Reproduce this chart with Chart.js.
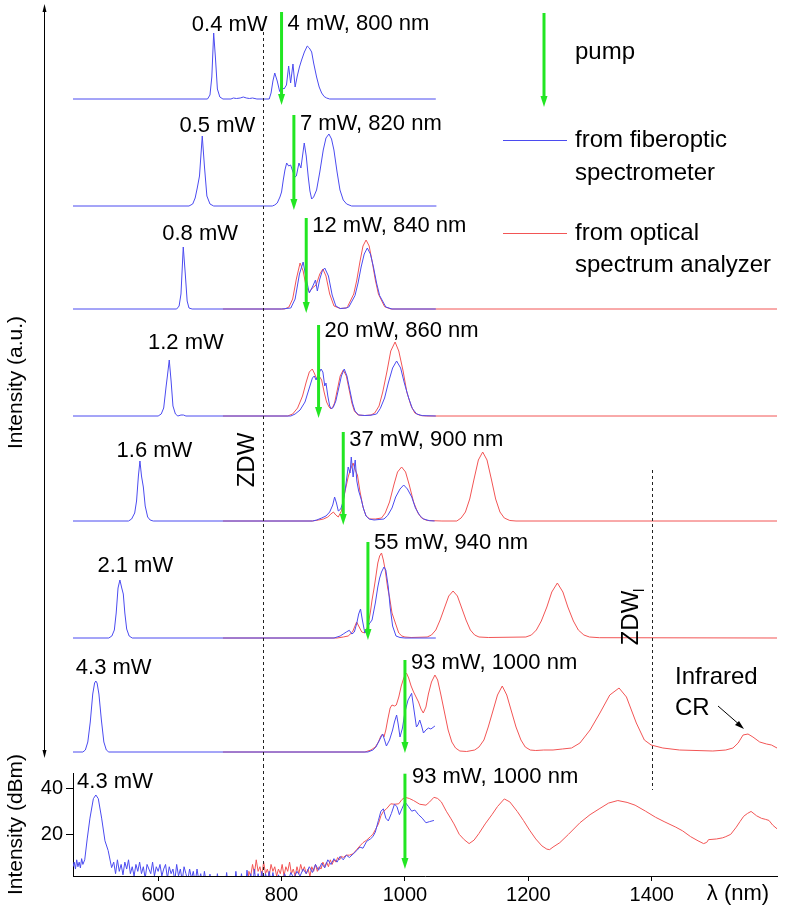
<!DOCTYPE html>
<html><head><meta charset="utf-8">
<script src="https://cdn.jsdelivr.net/npm/chart.js@4.4.0/dist/chart.umd.min.js"></script>
<style>
html,body{margin:0;padding:0;background:#fff;}
#wrap{position:relative;width:789px;height:917px;overflow:hidden;background:#fff;}
#top{position:absolute;left:0;top:0;}
#bot{position:absolute;left:0;top:690px;}
</style></head><body>
<div id="wrap"><canvas id="top" width="789" height="765"></canvas><canvas id="bot" width="789" height="227"></canvas></div>
<script>
// ---------------- DATA ----------------
const xTicks = [600, 800, 1000, 1200, 1400];
const dbmTicks = [20, 40];
const zdw = 770;
const zdwL = 1400;
const pumpPowers = ['4 mW', '7 mW', '12 mW', '20 mW', '37 mW', '55 mW', '93 mW'];
const pumpWavelengths = [800, 820, 840, 860, 900, 940, 1000];
const outputPowers = ['0.4 mW', '0.5 mW', '0.8 mW', '1.2 mW', '1.6 mW', '2.1 mW', '4.3 mW'];
const traceOffsets = [666, 559, 456, 349, 244, 127, 13];

// [wavelength nm, intensity a.u. above trace baseline]
const blue1 = [[462,0],[680,0],[684,4],[687,22],[690,66],[693,40],[696,10],[700,2],[705,0],[718,0],[722,1],[727,0.5],[733,1],[738,2],[743,1],[748,0.5],[753,1],[760,0],[780,0],[783,6],[786,18],[789,26],[793,18],[797,7.5],[800,12],[804,10],[808,14],[811.5,33],[814.7,16],[818.5,35],[822,12],[825.5,23],[829,32],[832.5,39],[837,47],[841.7,53],[845,51],[848.8,47],[852,36],[856.8,22],[861,12],[865,6],[869,2.5],[873,1],[878,0],[1050,0]];
const blue2 = [[462,0],[650,0],[656,2],[660,8],[663.4,18],[667,30],[671.5,70],[675,40],[679,10],[684,2],[690,0],[785,0],[789,1],[793,3],[797.4,9],[800,14],[802.8,26],[805.5,36],[808.3,43],[811.5,40],[814.7,41],[818,35],[821.7,29],[824,30],[828.2,43],[831.4,38],[836.8,63],[840,50],[843.3,29],[846,15],[848.8,7],[852,9],[856.8,16],[862,34],[867.6,56],[872,68],[876.8,72],[881,67],[884.9,56],[890,34],[894.7,16],[900,6],[905.5,2],[913.6,0],[1051,0]];
const blue3 = [[462,0],[630,0],[634,3],[637,15],[640.7,62],[644,35],[647,8],[650,1],[655,0],[800,0],[815,1],[822,10],[829,35],[835,47],[840,30],[845,16],[850,22],[855,29],[858,18],[862,30],[866,38],[870,41],[876,33],[882,14],[888,3],[895,0.5],[905,1],[909,2],[919,13.4],[924,26],[929,42],[934,55],[939,61],[944,55],[949,42],[954,26],[959,13.4],[969,2],[979,0],[1050,0]];
const red3 = [[705,0],[805,0],[812,2],[818,10],[824,30],[830,46],[835,38],[840,22],[845,17],[850,21],[856,24],[862,35],[867,40],[872,33],[878,15],[885,3],[895,0.5],[905,1],[907,2.3],[917,15],[922,29],[927,47],[932,63],[937,69],[942,63],[947,47],[952,29],[957,15],[967,2.3],[977,0],[1603,0]];
const blue4 = [[462,0],[600,0],[605,2],[609,8],[613,30],[615,40],[618,56],[621,35],[624,10],[628,2],[632,0],[637,1],[641,1],[645,0],[815,0],[822,2],[830,6],[838,14],[845,28],[850,38],[853,40],[856,36],[860,42],[864,47],[867,44],[870,30],[872,33],[875,20],[878,10],[881,7],[884,9],[888,15],[892,26],[897,40],[901.6,47],[906,40],[911,25],[915,13],[919,5],[925,1],[935,0.5],[945,0.8],[954,2],[960,7.5],[967,18],[973,33],[980,48],[986.5,55],[993,48],[999,33],[1006,18],[1012,7.5],[1019,2],[1028,0.4],[1050,0]];
const red4 = [[705,0],[810,0],[818,2],[826,8],[834,20],[840,34],[845,44],[849.8,47],[853,43],[857,37],[861,40],[865,36],[869,24],[873,14],[877,9],[880,7],[883,9],[886,13],[890,25],[895,40],[900,46],[905,40],[910,25],[914,13],[918,5],[924,1],[935,0.5],[945,1],[951,3],[958,10],[964,24],[971,45],[977,65],[984,74],[990,65],[997,45],[1003,24],[1010,10],[1016,3],[1025,0.5],[1035,0],[1603,0]];
const blue5 = [[462,0],[552,0],[557,2],[562,8],[565,20],[568,45],[570.5,60],[573,45],[576,34],[579,15],[583,4],[587,1],[592,0],[850,0],[857,1],[865,3],[872,5],[878,9],[883,16],[886,24],[889,18],[892,10],[896,12],[900,20],[904,35],[908,54],[911,48],[913,64],[916,44],[919.4,61],[922,40],[925,30],[929,22],[933,12],[937,5],[942,2],[950,1],[958,1.5],[966,2],[972,5.5],[979,13],[985,24],[992,32],[998,36],[1004,32],[1011,24],[1017,13],[1024,5.5],[1030,2],[1040,0.3],[1048,0]];
const red5 = [[705,0],[850,0],[860,1],[868,2],[875,4],[880,7],[884,9],[888,6],[892,4],[897,10],[903,30],[908,44],[912,52],[916,58],[920,50],[923,46],[927,30],[932,14],[937,5],[943,2],[952,2],[962,3],[968,8],[975,19],[982,36],[988,49],[994.6,54],[1001,49],[1007,36],[1014,19],[1021,8],[1027,3],[1036,0.5],[1060,0],[1084,0],[1091,3],[1098,9],[1105,22],[1112,42],[1119,61],[1126,69],[1133,61],[1140,42],[1147,22],[1154,9],[1161,3],[1170,0.5],[1180,0],[1603,0]];
const blue6 = [[462,0],[520,0],[525,2],[529,8],[532,25],[535,50],[538,58],[541,50],[543.5,44],[546,25],[549,9],[553,2],[558,0],[885,0],[890,1],[895,2],[900,4],[905,6],[909.8,7.7],[914,4],[918,6],[922,15],[925,24],[928,29],[931,18],[935,5],[938,8],[942,14],[946.7,18],[952,35],[956,51],[959,60],[962,66],[966,71],[969,68],[973,51],[976,31],[980,12],[985.5,2],[992,0.5],[1000,0],[1050,0]];
const red6 = [[705,0],[890,0],[900,1],[908,2],[915,6],[919,12],[921.7,16],[925,12],[930,6],[935,5],[940,12],[944,26],[946.7,38],[950,50],[952,58],[956,75],[959,82],[962,85],[965,78],[968,68],[972,50],[975,41],[979,25],[985,14],[990,5],[995,2],[1000,1],[1010,0.5],[1036,1],[1043,3],[1050,8],[1057,18],[1064,30],[1071,42],[1078,47],[1085,42],[1092,30],[1099,18],[1106,8],[1113,3],[1120,1],[1135,0.5],[1196,1],[1205,3],[1213,8],[1221,17],[1230,31],[1238,46],[1247,55],[1256,46],[1264,31],[1273,17],[1281,8],[1290,3],[1299,1],[1315,0.3],[1603,0]];
const blue7 = [[462,0],[478,0],[482,2],[486,10],[490,30],[494,58],[497,69],[499,71],[501,69],[504,58],[508,32],[512,10],[516,2],[520,0],[940,0],[948,2],[953,5],[958,11],[963.8,18],[967,12],[970,6],[975,12],[980,22],[983,30],[986.5,37],[989,28],[992,15],[996,24],[1000,40],[1005,52],[1010.8,58.7],[1014,45],[1018.6,25],[1021,27],[1024,32],[1027,26],[1030,19],[1034,22],[1038,24],[1042,23],[1048.6,26]];
const red7 = [[705,0],[935,0],[945,2],[952,5],[957,10],[961,16],[963.8,18],[966,15],[969,22],[972,32],[976,44],[979,47],[983,46],[986,47],[990,55],[994,66],[997,72],[1000,77],[1002.7,78.7],[1006,74],[1010,66],[1014,60],[1018,55],[1022,50],[1026,43],[1029.7,39],[1034,45],[1038,58],[1043,70],[1048.6,77],[1053,72],[1058,58],[1064,40],[1070,22],[1076,10],[1082,4],[1089,1],[1100,0.5],[1113,2],[1120,5],[1128,12],[1135,25],[1143,42],[1150,57],[1157.7,66],[1165,57],[1172,42],[1180,25],[1188,12],[1195,5],[1203,2],[1212,1.5],[1225,2],[1240,2],[1255,3],[1270,4],[1283.6,9],[1300,22],[1316,39],[1332,57],[1347,64],[1359,55],[1375,29],[1388,12],[1399,7],[1418,4],[1445,2],[1499,1],[1520,2],[1531.6,4],[1540,9],[1548,17],[1556,18],[1564,15],[1575,10],[1586,8],[1594,7],[1603,4]];

// bottom panel, [wavelength nm, dBm]
const bottomBlue = [[462,6],[464,8],[466,5],[468,9],[470,6],[472,8],[474,5.5],[476,9.5],[478,7],[481,9],[485,18],[489.5,27],[495,35.4],[499,37],[503,35.4],[508.4,27],[513.8,17.2],[519,13],[524.6,5.6],[528,8],[531,3],[534,9],[537,4],[540,7],[543,2.5],[546,8],[549,5],[552,9],[555,3],[558,6],[561,2],[564,7],[567,4],[570,8],[573,3],[576,6],[579,1],[582,7],[585,5],[588,3],[591,8],[594,2],[597,6],[600,4],[603,7],[606,2],[609,5],[612,7],[615,1],[618,6],[621,3],[624,5],[627,0],[630,7],[633,2],[636,5],[639,0],[642,6],[645,3],[648,0],[651,5],[654,1],[657,4],[660,-1],[663,5],[666,0],[669,3],[672,-2],[675,4],[678,-1],[681,-3],[684,2.8],[687,-3],[690,-2],[693,-4],[696,3],[699,-3],[702,-4],[705,-2],[708,-4],[711,3.5],[714,-3],[717,-4],[720,-2],[723,-4],[726,4],[729,-3],[732,-4],[735,3],[738,-2],[741,-4],[744,4.5],[747,-2],[750,3],[753,-3],[756,5],[759,-2],[762,3],[765,-1],[768,4],[771,-2],[774,3],[777,0],[780,4],[783,-1],[786,3.5],[790,-2],[795,2.5],[800,-2],[805,3],[810,-1],[815,3.5],[820,1],[825,4],[830,2],[835,5],[840,3],[845,6],[850,3.5],[855,7],[860,4.5],[865,7.5],[870,5.5],[875,9],[880,7],[885,9.5],[890,8],[895,10.5],[900,9],[905,11],[910,10],[916,11.5],[922,13],[927,14.5],[932,14],[938,17],[944,18],[948,19],[952,21],[957,26],[961,30],[965,31],[969,27],[973,25.8],[978,29],[983,33],[987,32],[991,28.5],[995,31],[1000,34],[1006,31.9],[1011,30],[1016,30.5],[1022,28.5],[1028,27],[1034,25],[1040,25.5],[1047,26]];
const bottomRed = [[745,-3],[747,4],[750,2],[753,7],[756,3],[759,9],[762,4],[765,6],[768,2],[771,8],[774,3],[777,5],[780,2],[783,7],[786,4],[789,6],[792,2],[795,5],[798,3],[801,7],[804,2],[807,6],[810,4],[813,8],[816,3],[819,5],[822,2],[825,6],[828,3],[831,7],[834,4],[837,6],[840,3],[843,5],[846,2],[849,6],[852,4],[855,7],[858,4],[861,6],[864,5],[867,8],[870,6],[873,8],[876,6],[879,9],[882,7],[885,9],[888,8],[891,10],[894,9],[897,10.5],[900,10],[905,11],[910,11],[916,11.6],[922,13.5],[927,15],[932,16.4],[938,17.5],[944,19],[948,20],[952,22],[957,24.5],[961,28],[965,29.9],[970,31],[977,33.2],[983,33],[990,33.2],[995,35],[1000,36],[1007,35.5],[1014,34.6],[1024,33],[1034,32.6],[1040,34],[1047,36],[1053,35.5],[1059,34],[1067,30],[1074,27],[1079.5,24.5],[1088,20],[1096,17.7],[1104,16],[1112,17.5],[1120,20.4],[1130,24.5],[1141,28.5],[1150,32],[1161,35.3],[1170,34],[1182,29.9],[1192,26],[1202,21.8],[1212,18],[1222,15],[1230,13.6],[1234.5,13.4],[1240,14.5],[1251,16.4],[1265,20],[1283.6,25],[1300,28.5],[1316,31.2],[1330,33.5],[1345,34.6],[1360,33.8],[1373,32.6],[1390,30],[1406,27.4],[1420,25.5],[1439,23.1],[1450,21.5],[1463,19],[1475,17.2],[1484,16],[1489,16.5],[1492,17.7],[1505,18],[1515,18.5],[1520,19],[1528,20],[1537,23.1],[1543,25.5],[1549,27.8],[1555,29],[1561,29.9],[1570,28],[1578,26.9],[1584,26.5],[1590,26],[1596,24],[1603,22.4]];

// ---------------- LAYOUT / STYLE ----------------
const X_MIN = 462, X_MAX = 1603;
const BOT_TOP = 690; // page y of the bottom canvas
const BLUE = 'rgb(75,75,240)';
const RED = 'rgb(242,85,85)';
const GREEN = '#22e622';
const FONT = '"Liberation Sans", Arial, Helvetica, sans-serif';
const powerLabelPos = [[716,74],[696,80],[668,75.5],[645,73],[594,70.5],[563,72],[528,84]];
const arrowSpan = [[87,-6],[91,-4],[91,-4],[91,-2],[89,-4],[96,-2],[92,-1]];
const pumpLabelDy = [75,82.5,83.5,85.5,81.3,95.5,89];

const blueSeries = [blue1, blue2, blue3, blue4, blue5, blue6, blue7];
const redSeries = [null, null, red3, red4, red5, red6, red7];

function lineDs(points, off, color) {
  return {
    data: points.map(p => ({x: p[0], y: off + p[1]})),
    borderColor: color, borderWidth: 1, pointRadius: 0, tension: 0, fill: false
  };
}

const topDatasets = [];
blueSeries.forEach((s, i) => topDatasets.push(lineDs(s, traceOffsets[i], BLUE)));
redSeries.forEach((s, i) => { if (s) topDatasets.push(lineDs(s, traceOffsets[i], RED)); });

function drawArrow(ctx, x, y1, y2) {
  ctx.save();
  ctx.strokeStyle = GREEN; ctx.fillStyle = GREEN; ctx.lineWidth = 3;
  ctx.beginPath(); ctx.moveTo(x, y1); ctx.lineTo(x, y2 - 9); ctx.stroke();
  ctx.beginPath(); ctx.moveTo(x - 3.5, y2 - 11); ctx.lineTo(x + 3.5, y2 - 11); ctx.lineTo(x, y2); ctx.closePath(); ctx.fill();
  ctx.restore();
}
function dashed(ctx, x, y1, y2) {
  ctx.save(); ctx.strokeStyle = '#222'; ctx.lineWidth = 1; ctx.setLineDash([3, 3]);
  ctx.beginPath(); ctx.moveTo(Math.round(x) + 0.5, y1); ctx.lineTo(Math.round(x) + 0.5, y2); ctx.stroke();
  ctx.restore();
}
function text(ctx, s, x, y, size, align) {
  ctx.save(); ctx.fillStyle = '#000'; ctx.font = size + 'px ' + FONT;
  ctx.textAlign = align || 'left'; ctx.textBaseline = 'middle';
  ctx.fillText(s, x, y); ctx.restore();
}

const topAnno = {
  id: 'topAnno',
  afterDatasetsDraw(chart) {
    const ctx = chart.ctx, xs = chart.scales.x, ys = chart.scales.y;
    const H = chart.height;
    dashed(ctx, xs.getPixelForValue(zdw), 32, H);
    dashed(ctx, xs.getPixelForValue(zdwL), 470, H);
    // intensity arrow axis
    ctx.save(); ctx.strokeStyle = '#000'; ctx.fillStyle = '#000'; ctx.lineWidth = 1;
    ctx.beginPath(); ctx.moveTo(44.5, 6); ctx.lineTo(44.5, 754); ctx.stroke();
    ctx.beginPath(); ctx.moveTo(42.5, 12); ctx.lineTo(46.5, 12); ctx.lineTo(44.5, 4); ctx.closePath(); ctx.fill();
    ctx.beginPath(); ctx.moveTo(42.5, 750); ctx.lineTo(46.5, 750); ctx.lineTo(44.5, 758); ctx.closePath(); ctx.fill();
    ctx.restore();
    pumpWavelengths.forEach((w, i) => {
      const x = xs.getPixelForValue(w);
      const off = traceOffsets[i];
      drawArrow(ctx, x, ys.getPixelForValue(off + arrowSpan[i][0]), ys.getPixelForValue(off + arrowSpan[i][1]));
      text(ctx, pumpPowers[i] + ', ' + w + ' nm', x + 6, ys.getPixelForValue(off + pumpLabelDy[i]), 22);
      text(ctx, outputPowers[i], xs.getPixelForValue(powerLabelPos[i][0]), ys.getPixelForValue(off + powerLabelPos[i][1]), 22, 'center');
    });
    ctx.save(); ctx.translate(247, 460); ctx.rotate(-Math.PI / 2);
    text(ctx, 'ZDW', 0, 0, 24, 'center'); ctx.restore();
    ctx.save(); ctx.translate(631, 618); ctx.rotate(-Math.PI / 2);
    text(ctx, 'ZDW', 0, 0, 24, 'center'); text(ctx, 'l', 26, 9, 15, 'left'); ctx.restore();
    // legend
    drawArrow(ctx, 544, 13, 107);
    text(ctx, 'pump', 575, 52, 24);
    ctx.save(); ctx.lineWidth = 1;
    ctx.strokeStyle = BLUE; ctx.beginPath(); ctx.moveTo(503, 140.5); ctx.lineTo(567, 140.5); ctx.stroke();
    ctx.strokeStyle = RED; ctx.beginPath(); ctx.moveTo(503, 233.5); ctx.lineTo(567, 233.5); ctx.stroke();
    ctx.restore();
    text(ctx, 'from fiberoptic', 575, 140, 24);
    text(ctx, 'spectrometer', 575, 173, 24);
    text(ctx, 'from optical', 575, 233, 24);
    text(ctx, 'spectrum analyzer', 575, 265, 24);
    text(ctx, 'Infrared', 675, 677, 24);
    text(ctx, 'CR', 675, 708, 24);
    ctx.save(); ctx.strokeStyle = '#000'; ctx.fillStyle = '#000'; ctx.lineWidth = 1;
    ctx.beginPath(); ctx.moveTo(718, 706); ctx.lineTo(741, 726); ctx.stroke();
    ctx.beginPath(); ctx.moveTo(744, 729); ctx.lineTo(735, 725); ctx.lineTo(739, 721); ctx.closePath(); ctx.fill();
    ctx.restore();
  }
};

const botAnno = {
  id: 'botAnno',
  afterDatasetsDraw(chart) {
    const ctx = chart.ctx, xs = chart.scales.x, ys = chart.scales.y;
    const bottom = chart.chartArea.bottom;
    const Y = v => v - BOT_TOP;
    dashed(ctx, xs.getPixelForValue(zdw), Y(765), bottom);
    dashed(ctx, xs.getPixelForValue(zdwL), Y(765), Y(790));
    const x = xs.getPixelForValue(pumpWavelengths[6]);
    drawArrow(ctx, x, ys.getPixelForValue(46.2), ys.getPixelForValue(5));
    text(ctx, pumpPowers[6] + ', ' + pumpWavelengths[6] + ' nm', x + 7, Y(777), 22);
    text(ctx, outputPowers[6], 115, Y(782), 22, 'center');
    text(ctx, '\u03BB (nm)', 738, Y(894), 22, 'center');
  }
};

const axisFont = {family: FONT, size: 21};

new Chart(document.getElementById('top'), {
  type: 'line',
  data: {datasets: topDatasets},
  options: {
    responsive: false, animation: false, events: [], devicePixelRatio: 1,
    layout: {padding: {left: 0, right: 12, top: 0, bottom: 0}},
    plugins: {legend: {display: false}, tooltip: {enabled: false}},
    scales: {
      x: {type: 'linear', min: X_MIN, max: X_MAX, display: false},
      y: {
        type: 'linear', min: 0, max: 765,
        grid: {display: false}, border: {display: false}, ticks: {display: false},
        title: {display: true, text: 'Intensity (a.u.)', color: '#000', font: axisFont, padding: {top: 4, bottom: 0}},
        afterFit(s) { s.width = 73; }
      }
    }
  },
  plugins: [topAnno]
});

new Chart(document.getElementById('bot'), {
  type: 'line',
  data: {datasets: [
    {data: bottomBlue.map(p => ({x: p[0], y: p[1]})), borderColor: BLUE, borderWidth: 1, pointRadius: 0, tension: 0},
    {data: bottomRed.map(p => ({x: p[0], y: p[1]})), borderColor: RED, borderWidth: 1, pointRadius: 0, tension: 0}
  ]},
  options: {
    responsive: false, animation: false, events: [], devicePixelRatio: 1,
    layout: {padding: {left: 0, right: 12, top: 773 - BOT_TOP, bottom: 0}},
    plugins: {legend: {display: false}, tooltip: {enabled: false}},
    scales: {
      x: {
        type: 'linear', min: X_MIN, max: X_MAX,
        grid: {display: true, drawOnChartArea: false, tickLength: 5, color: '#000'},
        border: {display: true, color: '#000', width: 1},
        ticks: {color: '#000', font: {family: FONT, size: 20}, padding: 2, maxRotation: 0, autoSkip: false,
                callback: v => String(v)},
        afterBuildTicks(s) { s.ticks = xTicks.map(v => ({value: v})); },
        afterFit(s) { s.height = 41; }
      },
      y: {
        type: 'linear', min: 2, max: 46.5,
        grid: {display: true, drawOnChartArea: false, tickLength: 7, color: '#000'},
        border: {display: true, color: '#000', width: 1},
        ticks: {color: '#000', font: {family: FONT, size: 20}, padding: 3, callback: v => String(v)},
        afterBuildTicks(s) { s.ticks = dbmTicks.map(v => ({value: v})); },
        title: {display: true, text: 'Intensity (dBm)', color: '#000', font: axisFont, padding: {top: 4, bottom: 0}},
        afterFit(s) { s.width = 73; }
      }
    }
  },
  plugins: [botAnno]
});
</script>
</body></html>
